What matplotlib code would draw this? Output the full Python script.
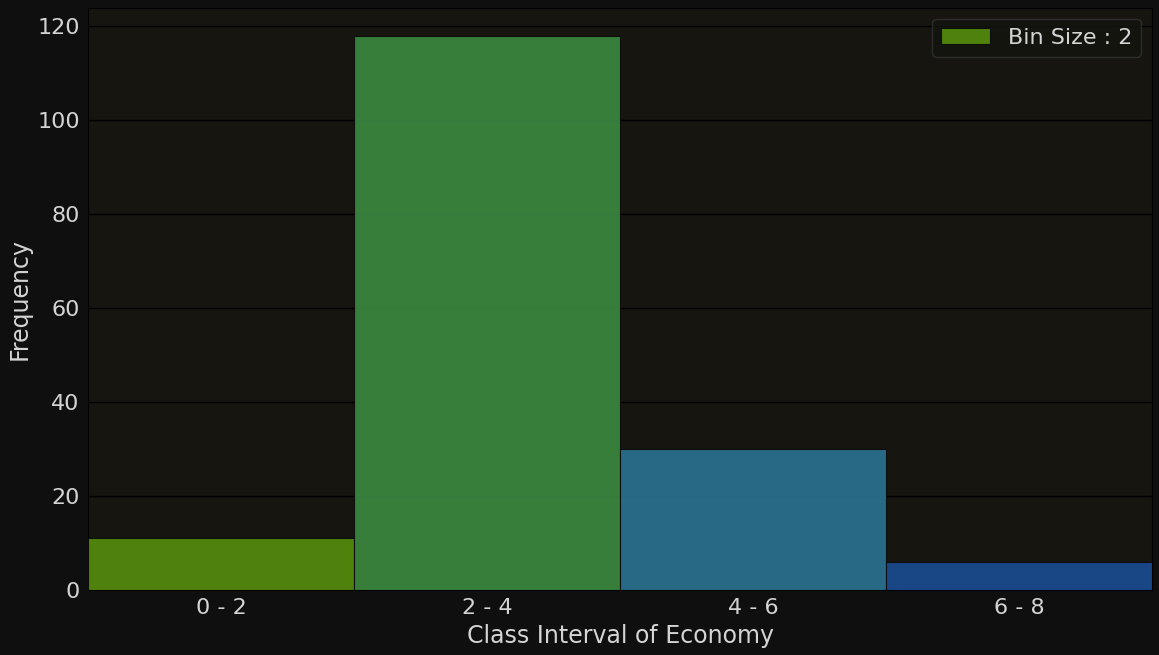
import matplotlib
matplotlib.use("Agg")
import matplotlib.pyplot as plt

bin_edges = [0, 2, 4, 6, 8]
tick_labels = ['0 - 2', '2 - 4', '4 - 6', '6 - 8']
frequencies = [11, 118, 30, 6]
bar_colors = ['#548c0c', '#3a8840', '#2a7290', '#1a4c90']

text_color = '#d4d4d4'

fig, ax = plt.subplots(figsize=(11.59, 6.55), dpi=100)
fig.patch.set_facecolor('#0f0f0f')
ax.set_facecolor('#16150f')

lefts = bin_edges[:-1]
widths = [b - a for a, b in zip(bin_edges[:-1], bin_edges[1:])]
centers = [a + w / 2 for a, w in zip(lefts, widths)]

bars = ax.bar(lefts, frequencies, width=widths, align='edge', color=bar_colors,
              edgecolor='#0a0a0a', linewidth=0.8, alpha=0.92, zorder=3)
bars[0].set_label('Bin Size : 2')

ax.grid(axis='y', color='black', linewidth=1.0, zorder=0)
ax.set_axisbelow(True)
ax.set_xlim(bin_edges[0], bin_edges[-1])
ax.set_ylim(0, max(frequencies) * 1.05)
ax.set_xticks(centers)
ax.set_xticklabels(tick_labels)
ax.tick_params(colors=text_color, labelsize=16, length=0, pad=6)
for s in ax.spines.values():
    s.set_color('black')

ax.set_xlabel('Class Interval of Economy', fontsize=17, color=text_color, labelpad=4)
ax.set_ylabel('Frequency', fontsize=17, color=text_color, labelpad=4)

leg = ax.legend(fontsize=16, facecolor='#141410', edgecolor='#333333',
                labelcolor=text_color, loc='upper right', handlelength=2.2)

fig.subplots_adjust(left=0.076, right=0.994, top=0.988, bottom=0.099)
plt.savefig('out.png', facecolor=fig.get_facecolor())
